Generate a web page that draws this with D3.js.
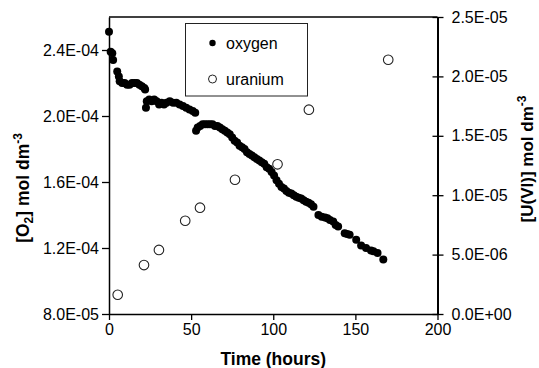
<!DOCTYPE html>
<html><head><meta charset="utf-8">
<script src="https://cdn.jsdelivr.net/npm/d3@7"></script>
<style>
html,body{margin:0;padding:0;background:#fff;}
text{font-family:"Liberation Sans",Arial,sans-serif;}
</style></head>
<body>
<svg id="c" width="539" height="368"></svg>
<script>
// Oxygen data: time (hours), [O2] mol dm-3
const oxyTime = [0,1,2,2.5,5,6,6.5,8,9.5,11,12.5,14,15.5,17,18.5,20,21.5,22,
  22.5,23,24.5,26,27.5,29,30.5,32,33.5,35,37,39,41,43,45,47,49,51,52.5,
  53,54,55.5,57,58.5,60,61.5,63,64.5,66,67.5,69,70.5,72,73.5,75,76.5,78,79.5,81,82.5,84,85.5,87,88.5,90,91.5,
  93,94.5,96,97.5,99,100.5,102,103.5,105,106.5,108,109.5,111,112.5,114,115.5,117,118.5,120,121.5,123,124.5,
  127.5,129.5,131.5,133,134.5,136.5,138,139.5,143.5,145,146.5,150.5,153.5,156.5,159.5,161,163.5,167];
const oxyValue = [2.51e-4,2.39e-4,2.38e-4,2.34e-4,2.27e-4,2.24e-4,2.21e-4,2.20e-4,2.20e-4,2.19e-4,2.19e-4,2.20e-4,2.20e-4,2.20e-4,2.19e-4,2.18e-4,2.17e-4,2.16e-4,
  2.05e-4,2.09e-4,2.10e-4,2.09e-4,2.10e-4,2.09e-4,2.07e-4,2.08e-4,2.07e-4,2.08e-4,2.09e-4,2.08e-4,2.08e-4,2.07e-4,2.06e-4,2.05e-4,2.04e-4,2.03e-4,2.02e-4,
  1.91e-4,1.93e-4,1.94e-4,1.95e-4,1.95e-4,1.95e-4,1.95e-4,1.95e-4,1.94e-4,1.94e-4,1.93e-4,1.92e-4,1.91e-4,1.90e-4,1.89e-4,1.87e-4,1.85e-4,1.84e-4,1.82e-4,1.81e-4,1.80e-4,1.78e-4,1.77e-4,1.76e-4,1.75e-4,1.74e-4,1.73e-4,
  1.72e-4,1.71e-4,1.69e-4,1.68e-4,1.66e-4,1.64e-4,1.61e-4,1.59e-4,1.57e-4,1.56e-4,1.545e-4,1.535e-4,1.53e-4,1.52e-4,1.51e-4,1.505e-4,1.50e-4,1.49e-4,1.48e-4,1.475e-4,1.465e-4,1.45e-4,
  1.40e-4,1.39e-4,1.385e-4,1.38e-4,1.37e-4,1.36e-4,1.34e-4,1.33e-4,1.29e-4,1.285e-4,1.28e-4,1.25e-4,1.215e-4,1.20e-4,1.185e-4,1.18e-4,1.17e-4,1.13e-4];

// Uranium data: time (hours), [U(VI)] mol dm-3
const uTime = [5.3,21.3,30.4,46.4,55.4,76.7,102.6,121.7,170];
const uValue = [1.62e-6,4.12e-6,5.39e-6,7.85e-6,8.95e-6,1.13e-5,1.26e-5,1.72e-5,2.14e-5];

// Axes
const timeTicks = [0,50,100,150,200];
const o2Ticks = [8.0e-5,1.2e-4,1.6e-4,2.0e-4,2.4e-4];
const uTicks = [0,5e-6,1.0e-5,1.5e-5,2.0e-5,2.5e-5];
const seriesNames = ["oxygen","uranium"];

function sci(v){
  const [m,e] = v.toExponential(1).split('e');
  const n = +e;
  return m + 'E' + (n<0?'-':'+') + String(Math.abs(n)).padStart(2,'0');
}

const L=109, R=437.5, T=17, B=314;
const svg = d3.select('#c');
const x = d3.scaleLinear().domain([0,200]).range([L,R]);
const yL = d3.scaleLinear().domain([8e-5,2.6e-4]).range([B,T]);
const yR = d3.scaleLinear().domain([0,2.5e-5]).range([B,T]);

const FS = 16;
const TFS = 17.5;

// top frame line
svg.append('line').attr('x1',L).attr('x2',R).attr('y1',T).attr('y2',T)
  .attr('stroke','#000').attr('stroke-width',1.3);

// bottom axis
const gx = svg.append('g').attr('transform',`translate(0,${B})`)
  .call(d3.axisBottom(x).tickValues(timeTicks).tickFormat(d3.format('d')).tickSize(6).tickSizeOuter(0));
// left axis
const gl = svg.append('g').attr('transform',`translate(${L},0)`)
  .call(d3.axisLeft(yL).tickValues(o2Ticks).tickFormat(sci).tickSize(7).tickSizeOuter(0));
// right axis
const gr = svg.append('g').attr('transform',`translate(${R},0)`)
  .call(d3.axisRight(yR).tickValues(uTicks).tickFormat(sci).tickSize(6).tickSizeOuter(0));
gr.selectAll('.tick line').attr('x1',-5);

[gx,gl,gr].forEach(g=>{
  g.select('.domain').attr('stroke','#000').attr('stroke-width',1.5);
  g.selectAll('.tick line').attr('stroke','#000').attr('stroke-width',1.3);
  g.selectAll('.tick text').attr('font-size',FS).attr('fill','#000')
    .attr('font-family','"Liberation Sans",Arial,sans-serif');
});
gr.select('.domain').attr('stroke-width',2);
gl.selectAll('.tick text').attr('x',-10);
gr.selectAll('.tick text').attr('x',14);
gx.selectAll('.tick text').attr('y',10);

// oxygen points
svg.append('g').selectAll('circle').data(oxyTime.map((t,i)=>[t,oxyValue[i]])).join('circle')
  .attr('cx',d=>x(d[0])).attr('cy',d=>yL(d[1])).attr('r',4).attr('fill','#000');
// uranium points
svg.append('g').selectAll('circle').data(uTime.map((t,i)=>[t,uValue[i]])).join('circle')
  .attr('cx',d=>x(d[0])).attr('cy',d=>yR(d[1])).attr('r',4.8)
  .attr('fill','#fff').attr('stroke','#222').attr('stroke-width',1.1);

// axis titles
svg.append('text').attr('x',(L+R)/2).attr('y',365).attr('text-anchor','middle')
  .attr('font-size',TFS).attr('font-weight','bold').text('Time (hours)');

const lt = svg.append('text').attr('transform','translate(29,188) rotate(-90)')
  .attr('text-anchor','middle').attr('font-size',TFS).attr('font-weight','bold');
lt.append('tspan').text('[O');
lt.append('tspan').attr('font-size',12).attr('dy',4).text('2');
lt.append('tspan').attr('dy',-4).text('] mol dm');
lt.append('tspan').attr('font-size',12).attr('dy',-7).text('-3');

const rt = svg.append('text').attr('transform','translate(533,159) rotate(-90)')
  .attr('text-anchor','middle').attr('font-size',17).attr('font-weight','bold');
rt.append('tspan').text('[U(VI)] mol dm');
rt.append('tspan').attr('font-size',12).attr('dy',-7).text('-3');

// legend
const lg = svg.append('g');
lg.append('rect').attr('x',185.5).attr('y',23.5).attr('width',122).attr('height',72.5)
  .attr('fill','#fff').attr('stroke','#222').attr('stroke-width',1);
lg.append('circle').attr('cx',212.5).attr('cy',43).attr('r',3.2).attr('fill','#000');
lg.append('circle').attr('cx',212.5).attr('cy',79).attr('r',4).attr('fill','#fff').attr('stroke','#222').attr('stroke-width',1);
lg.selectAll('text.lab').data(seriesNames).join('text').attr('class','lab')
  .attr('x',226).attr('y',(d,i)=>[49,85][i]).attr('font-size',FS).attr('fill','#000').text(d=>d);
</script>
</body></html>
